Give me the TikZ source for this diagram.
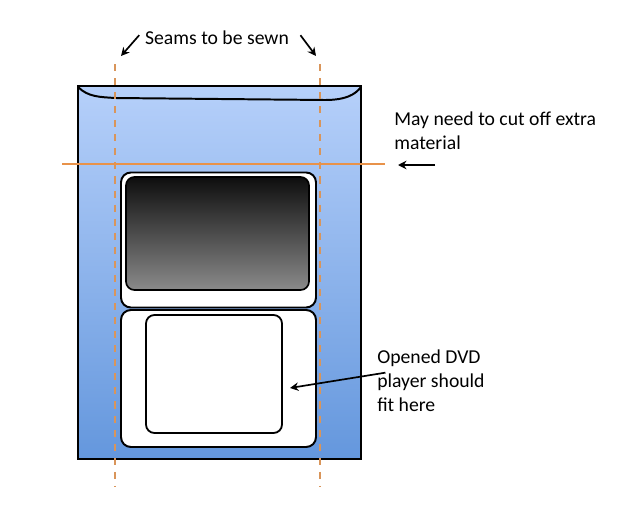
\documentclass[tikz,border=0pt]{standalone}
\usepackage{fontspec}
\setmainfont{Carlito}
\usepackage{tikz}
\usetikzlibrary{arrows.meta}
\definecolor{bagtop}{HTML}{B6D0FA}
\definecolor{bagbottom}{HTML}{6497DD}
\definecolor{seamorange}{HTML}{D9955A}
\definecolor{cutorange}{HTML}{E8924A}
\definecolor{screendark}{HTML}{0E0E0E}
\definecolor{screenlight}{HTML}{8A8A8A}

\begin{document}
\begin{tikzpicture}[x=0.025cm, y=-0.025cm,
    note/.style={font=\fontsize{14}{17}\selectfont, align=left, inner sep=0pt},
    pointer/.style={-{Stealth[length=6pt, width=6pt]}, line width=1.2pt},
    panel/.style={draw, line width=1.4pt, fill=white, rounded corners=7pt},
    seam/.style={seamorange, line width=1.2pt, dash pattern=on 5pt off 5pt}]
    \useasboundingbox (0,0) rectangle (620,520);

    % the bag
    \shade[top color=bagtop, bottom color=bagbottom] (78,86) rectangle (361,459);
    \draw[line width=1.4pt] (78,86) rectangle (361,459);
    % top flap
    \draw[line width=1.4pt] (78,87) .. controls (88,97) and (100,97) .. (115,98)
      -- (325,100) .. controls (345,100) and (355,95) .. (361,87);

    % device, upper half with screen
    \node[panel, minimum width=195*0.025cm, minimum height=135*0.025cm]
      (upper) at (218.5,240) {};
    \shade[top color=screendark, bottom color=screenlight, rounded corners=6pt,
      draw, line width=1.2pt] (126,177) rectangle (309,290);

    % device, lower half
    \node[panel, minimum width=195*0.025cm, minimum height=137*0.025cm]
      (lower) at (218.5,378.5) {};
    \draw[line width=1.3pt, fill=white, rounded corners=6pt] (146,315) rectangle (282,433);

    % seams and cut line
    \draw[seam] (115,64) -- (115,486);
    \draw[seam] (320,64) -- (320,486);
    \draw[cutorange, line width=1.1pt] (62,164) -- (385,164);

    % labels
    \node[note] (seams) at (217,38) {Seams to be sewn};
    \coordinate (seamL) at (121,56);
    \coordinate (seamR) at (316,56);
    \draw[pointer] ([xshift=-4pt, yshift=2pt]seams.west) -- (seamL);
    \draw[pointer] ([xshift=8pt, yshift=2pt]seams.east) -- (seamR);

    \node[note, anchor=north west] (cut) at (394,112)
      {May need to cut off extra\\material};
    \coordinate (cutTail) at (435,165);
    \coordinate (cutTip) at (398,165);
    \draw[pointer] (cutTail) -- (cutTip);

    \node[note, anchor=north west] (dvd) at (377,350)
      {Opened DVD\\player should\\fit here};
    \coordinate (fitTip) at (290,388);
    \draw[pointer] ([xshift=6pt, yshift=6pt]dvd.west) -- (fitTip);
  \end{tikzpicture}
\end{document}
